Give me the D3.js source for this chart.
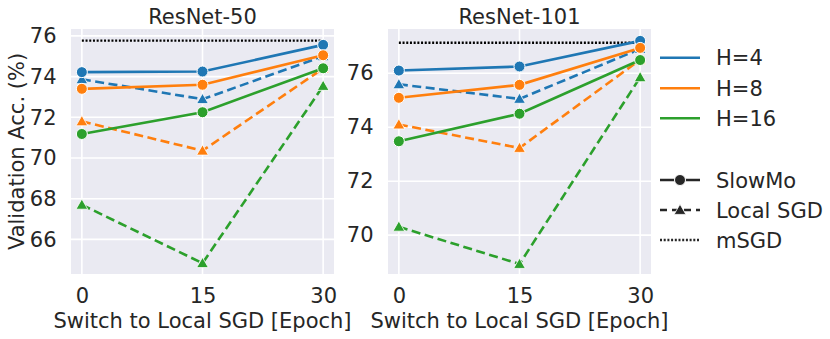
<!DOCTYPE html>
<html><head><meta charset="utf-8">
<script src="https://cdn.jsdelivr.net/npm/d3@7"></script>
<style>body{margin:0;background:#fff;} text{font-family:"DejaVu Sans",sans-serif;fill:#262626;}</style>
</head><body><svg id="c" width="830" height="339"></svg>
<script>
const epochs = [0, 15, 30];
const xTickLabels = ["0", "15", "30"];
const seriesNames = ["H=4", "H=8", "H=16"];
const colors = ["#1f77b4", "#ff7f0e", "#2ca02c"];
// ResNet-50
const r50SlowMo = [[74.22, 74.25, 75.56], [73.4, 73.6, 75.05], [71.18, 72.25, 74.41]];
const r50Local = [[73.87, 72.89, 75.0], [71.8, 70.36, 74.4], [67.7, 64.83, 73.54]];
const r50mSGD = 75.77;
const r50Ticks = [66, 68, 70, 72, 74, 76];
// ResNet-101
const r101SlowMo = [[76.1, 76.25, 77.2], [75.09, 75.57, 76.94], [73.48, 74.5, 76.49]];
const r101Local = [[75.59, 75.05, 76.9], [74.1, 73.23, 76.5], [70.31, 68.93, 75.85]];
const r101mSGD = 77.13;
const r101Ticks = [70, 72, 74, 76];

const svg = d3.select("#c");
const plotTop = 29, plotBottom = 274;
const FS = "21px";
const DOT = "2,1.7";

function panel(x0, x1, yDomain, ticks, slow, local, msgd, title, showYLabel) {
  const g = svg.append("g");
  const x = d3.scaleLinear().domain([-1.35, 31.35]).range([x0, x1]);
  const y = d3.scaleLinear().domain(yDomain).range([plotBottom, plotTop]);
  g.append("rect").attr("x", x0).attr("y", plotTop).attr("width", x1 - x0).attr("height", plotBottom - plotTop).attr("fill", "#eaeaf2");
  g.selectAll(".gy").data(ticks).join("line").attr("x1", x0).attr("x2", x1)
    .attr("y1", d => y(d)).attr("y2", d => y(d)).attr("stroke", "#fff").attr("stroke-width", 1.6);
  g.selectAll(".gx").data(epochs).join("line").attr("y1", plotTop).attr("y2", plotBottom)
    .attr("x1", d => x(d)).attr("x2", d => x(d)).attr("stroke", "#fff").attr("stroke-width", 1.6);
  const ya = d3.axisLeft(y).tickValues(ticks).tickSize(0).tickPadding(14.5).tickFormat(d3.format("d"));
  const ay = g.append("g").attr("transform", `translate(${x0},0)`).call(ya);
  ay.select(".domain").remove();
  ay.selectAll("text").style("font-size", FS).style("font-family", "DejaVu Sans").attr("fill", "#262626");
  const xa = d3.axisBottom(x).tickValues(epochs).tickSize(0).tickPadding(14).tickFormat((d, i) => xTickLabels[i]);
  const ax = g.append("g").attr("transform", `translate(0,${plotBottom})`).call(xa);
  ax.select(".domain").remove();
  ax.selectAll("text").style("font-size", FS).style("font-family", "DejaVu Sans").attr("fill", "#262626");
  g.append("text").attr("x", (x0 + x1) / 2).attr("y", 328).attr("text-anchor", "middle")
    .style("font-size", FS).text("Switch to Local SGD [Epoch]");
  g.append("text").attr("x", (x0 + x1) / 2).attr("y", 24).attr("text-anchor", "middle")
    .style("font-size", FS).text(title);
  if (showYLabel) {
    g.append("text").attr("transform", `translate(24,${(plotTop + plotBottom) / 2}) rotate(-90)`)
      .attr("text-anchor", "middle").style("font-size", FS).text("Validation Acc. (%)");
  }
  const clip = "clip" + Math.round(x0);
  svg.append("clipPath").attr("id", clip).append("rect").attr("x", x0).attr("y", plotTop).attr("width", x1 - x0).attr("height", plotBottom - plotTop);
  const pg = g.append("g").attr("clip-path", `url(#${clip})`);
  pg.append("line").attr("x1", x(0)).attr("x2", x(30)).attr("y1", y(msgd)).attr("y2", y(msgd))
    .attr("stroke", "#000").attr("stroke-width", 2.4).attr("stroke-dasharray", DOT);
  const line = d3.line().x((d, i) => x(epochs[i])).y(d => y(d));
  const tri = d3.symbol().type(d3.symbolTriangle).size(60);
  local.forEach((vals, k) => {
    pg.append("path").attr("d", line(vals)).attr("fill", "none").attr("stroke", colors[k])
      .attr("stroke-width", 2.6).attr("stroke-dasharray", "9,4.5");
  });
  local.forEach((vals, k) => {
    pg.selectAll(null).data(vals).join("path").attr("d", tri)
      .attr("transform", (d, i) => `translate(${x(epochs[i])},${y(d) + 1})`)
      .attr("fill", colors[k]).attr("stroke", "#fff").attr("stroke-width", 0.8);
  });
  slow.forEach((vals, k) => {
    pg.append("path").attr("d", line(vals)).attr("fill", "none").attr("stroke", colors[k])
      .attr("stroke-width", 2.6);
  });
  slow.forEach((vals, k) => {
    pg.selectAll(null).data(vals).join("circle").attr("cx", (d, i) => x(epochs[i])).attr("cy", d => y(d))
      .attr("r", 5.5).attr("fill", colors[k]).attr("stroke", "#fff").attr("stroke-width", 1);
  });
}

panel(71, 334, [64.3, 76.34], r50Ticks, r50SlowMo, r50Local, r50mSGD, "ResNet-50", true);
panel(388, 651, [68.56, 77.64], r101Ticks, r101SlowMo, r101Local, r101mSGD, "ResNet-101", false);

const lg = svg.append("g");
const lx0 = 660, lx1 = 700, tx = 716;
seriesNames.forEach((n, i) => {
  const yy = [57.7, 88.3, 118.3][i];
  lg.append("line").attr("x1", lx0).attr("x2", lx1).attr("y1", yy).attr("y2", yy).attr("stroke", colors[i]).attr("stroke-width", 2.6);
  lg.append("text").attr("x", tx).attr("y", yy).attr("dy", "0.36em").style("font-size", FS).text(n);
});
const styles = [
  { name: "SlowMo", y: 180, dash: null, marker: "circle" },
  { name: "Local SGD", y: 210, dash: "7,5", marker: "tri" },
  { name: "mSGD", y: 240, dash: DOT, marker: null }
];
styles.forEach(s => {
  lg.append("line").attr("x1", lx0).attr("x2", lx1).attr("y1", s.y).attr("y2", s.y).attr("stroke", "#262626")
    .attr("stroke-width", s.marker ? 2.6 : 2.4).attr("stroke-dasharray", s.dash);
  if (s.marker === "circle") lg.append("circle").attr("cx", (lx0 + lx1) / 2).attr("cy", s.y).attr("r", 5.5).attr("fill", "#262626").attr("stroke", "#fff").attr("stroke-width", 1);
  if (s.marker === "tri") lg.append("path").attr("d", d3.symbol().type(d3.symbolTriangle).size(60)).attr("transform", `translate(${(lx0 + lx1) / 2},${s.y + 1})`).attr("fill", "#262626").attr("stroke", "#fff").attr("stroke-width", 0.8);
  lg.append("text").attr("x", tx).attr("y", s.y).attr("dy", "0.36em").style("font-size", FS).text(s.name);
});
</script></body></html>
